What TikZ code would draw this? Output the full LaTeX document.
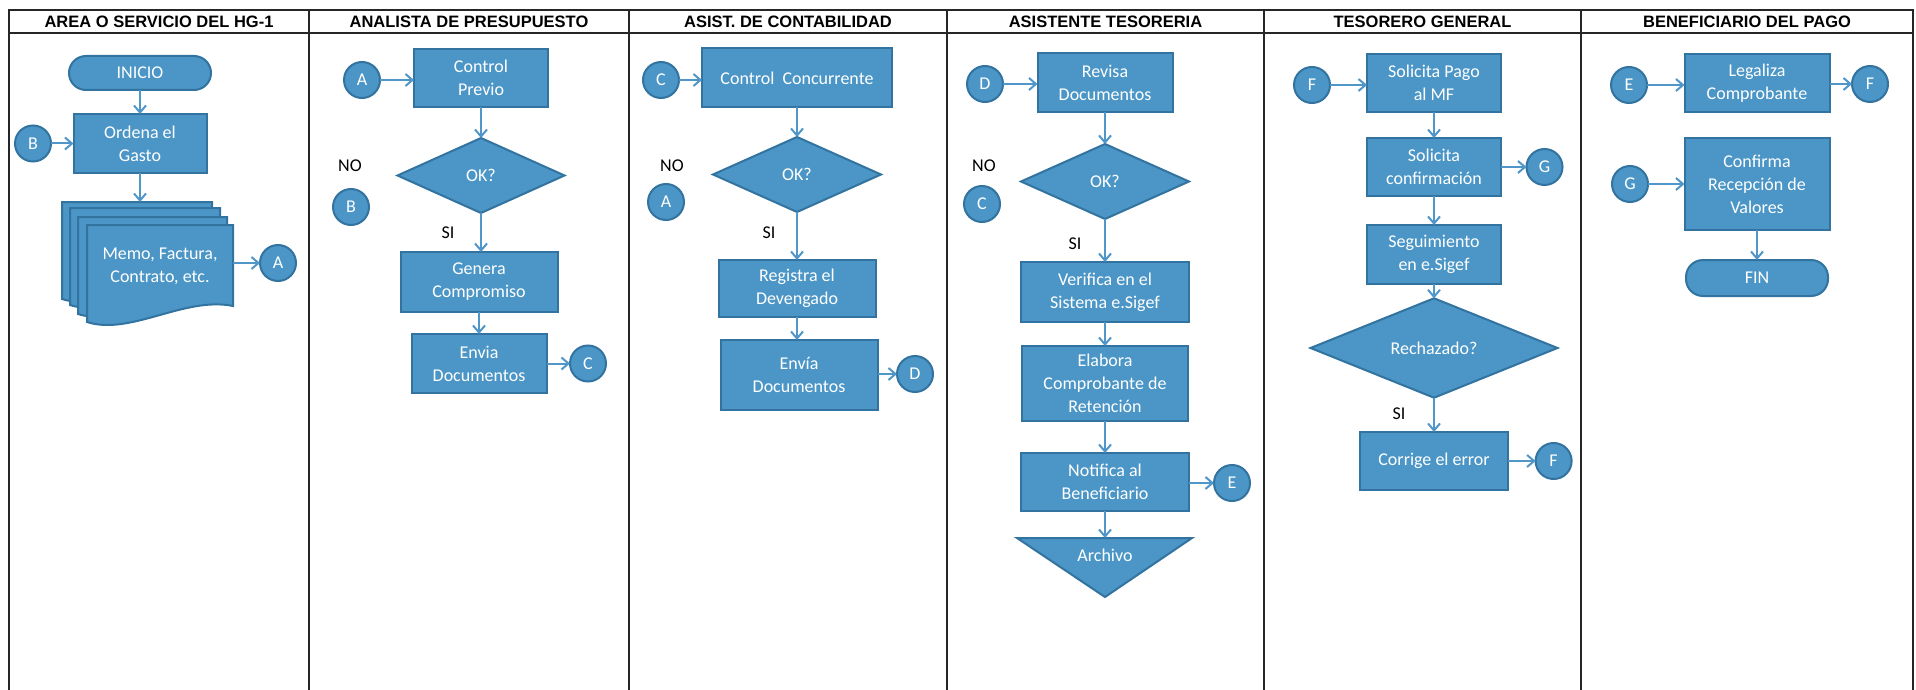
\documentclass[tikz,border=0pt]{standalone}
\usepackage{fontspec}
\setmainfont{Carlito}
\newfontfamily\hdrfont{Liberation Sans}
\usetikzlibrary{shapes.geometric,arrows.meta}
\definecolor{bfill}{RGB}{75,150,198}
\definecolor{bdraw}{RGB}{50,115,160}
\definecolor{arr}{RGB}{80,150,200}
\newcommand\docpage[3]{%
  \filldraw[fill=bfill, draw=bdraw, line width=2pt] (#1,#2) -- (#3,#2) -- (#3,#2+81)
    .. controls (#3-48,#2+71) and (#1+43,#2+111) .. (#1,#2+97) -- cycle;}
\begin{document}
\begin{tikzpicture}[x=1pt,y=-1pt,
  every node/.style={inner sep=0pt, outer sep=0pt},
  txt/.style={font=\fontsize{18}{23}\selectfont},
  box/.style={txt, rectangle, fill=bfill, draw=bdraw, line width=2pt, text=white, align=center},
  circ/.style={txt, circle, fill=bfill, draw=bdraw, line width=2pt, text=white, minimum size=36pt},
  dec/.style={txt, diamond, fill=bfill, draw=bdraw, line width=2pt, text=white},
  term/.style={box, rounded corners=17pt},
  lbl/.style={txt, text=black},
  hdr/.style={font=\hdrfont\bfseries\fontsize{16.5}{18}\selectfont},
  conn/.style={draw=arr, line width=2pt, -{Straight Barb[length=7pt,width=12pt]}},
  lanel/.style={line width=2.5pt, draw=black!85},
]
\useasboundingbox[fill=white] (0,0) rectangle (1916,690);

% lanes
\draw[lanel] (9,10) rectangle (1913,33);
\foreach \x in {9,309,629,947,1264,1581,1913} \draw[lanel] (\x,10) -- (\x,690);
\node[hdr] (h1) at (159,21.5) {AREA O SERVICIO DEL HG-1};
\node[hdr] (h2) at (469,21.5) {ANALISTA DE PRESUPUESTO};
\node[hdr] (h3) at (788,21.5) {ASIST. DE CONTABILIDAD};
\node[hdr] (h4) at (1105.5,21.5) {ASISTENTE TESORERIA};
\node[hdr] (h5) at (1422.5,21.5) {TESORERO GENERAL};
\node[hdr] (h6) at (1747,21.5) {BENEFICIARIO DEL PAGO};

% lane 1
\node[term, minimum width=142pt, minimum height=34pt] (inicio) at (140,73) {INICIO};
\node[box, minimum width=133pt, minimum height=59pt] (ordena) at (140,143.5) {Ordena el\\Gasto};
\node[circ] (b1) at (33,143.5) {B};
\docpage{62}{202}{212}
\docpage{70}{208}{220}
\docpage{78}{217}{227}
\docpage{87}{225}{233}
\node[txt, text=white, align=center] (doctext) at (160,266) {Memo, Factura,\\Contrato, etc.};
\coordinate (doctop) at (140,202);
\coordinate (docright) at (233,263);
\node[circ] (a1) at (278,263) {A};

% lane 2
\node[circ] (a2) at (362,80) {A};
\node[box, minimum width=134pt, minimum height=58pt] (cprev) at (481,78) {Control\\Previo};
\node[dec, minimum width=167pt, minimum height=75pt] (ok1) at (481,175.5) {OK?};
\node[lbl] (no1) at (350,166) {NO};
\node[circ] (b2) at (351,207) {B};
\node[lbl] (si1) at (448,233) {SI};
\node[box, minimum width=157pt, minimum height=60pt] (genera) at (479,282) {Genera\\Compromiso};
\node[box, minimum width=135pt, minimum height=59pt] (envia1) at (479,363.5) {Envia\\Documentos};
\node[circ] (c1) at (588,363.5) {C};

% lane 3
\node[circ] (c2) at (661,80) {C};
\node[box, minimum width=190pt, minimum height=59pt] (ccon) at (797,78) {Control\ \ Concurrente};
\node[dec, minimum width=168pt, minimum height=75pt] (ok2) at (797,174.5) {OK?};
\node[lbl] (no2) at (672,166) {NO};
\node[circ] (a3) at (666,202) {A};
\node[lbl] (si2) at (769,233) {SI};
\node[box, minimum width=157pt, minimum height=57pt] (registra) at (797,288.5) {Registra el\\Devengado};
\node[box, minimum width=157pt, minimum height=70pt] (envia2) at (799,375) {Envía\\Documentos};
\node[circ] (d1) at (915,374) {D};

% lane 4
\node[circ] (d2) at (985,84) {D};
\node[box, minimum width=135pt, minimum height=59pt] (revisa) at (1105,82.5) {Revisa\\Documentos};
\node[dec, minimum width=168pt, minimum height=75pt] (ok3) at (1105,181.5) {OK?};
\node[lbl] (no3) at (984,166) {NO};
\node[circ] (c3) at (982,204) {C};
\node[lbl] (si3) at (1075,244) {SI};
\node[box, minimum width=168pt, minimum height=60pt] (verifica) at (1105,292) {Verifica en el\\Sistema e.Sigef};
\node[box, minimum width=166pt, minimum height=75pt] (elabora) at (1105,383.5) {Elabora\\Comprobante de\\Retención};
\node[box, minimum width=168pt, minimum height=58pt] (notifica) at (1105,482) {Notifica al\\Beneficiario};
\node[circ] (e1) at (1232,483) {E};
\filldraw[fill=bfill, draw=bdraw, line width=2pt] (1017,538) -- (1192,538) -- (1105,597) -- cycle;
\coordinate (archtop) at (1105,538);
\node[txt, text=white] (archivo) at (1105,555) {Archivo};

% lane 5
\node[circ] (f1) at (1312,85) {F};
\node[box, minimum width=134pt, minimum height=58pt] (solpago) at (1434,83) {Solicita Pago\\al MF};
\node[box, minimum width=134pt, minimum height=58pt] (solconf) at (1434,167) {Solicita\\confirmación};
\node[circ] (g1) at (1544.5,167) {G};
\node[box, minimum width=134pt, minimum height=59pt] (seguim) at (1434,254.5) {Seguimiento\\en e.Sigef};
\node[dec, minimum width=247pt, minimum height=70pt] (rech) at (1434,348) {Rechazado?};
\node[lbl] (si4) at (1399,414) {SI};
\node[box, minimum width=148pt, minimum height=58pt] (corrige) at (1434,461) {Corrige el error};
\node[circ] (f2) at (1553.6,461) {F};

% lane 6
\node[circ] (e2) at (1629,85) {E};
\node[box, minimum width=145pt, minimum height=58pt] (legaliza) at (1757,83) {Legaliza\\Comprobante};
\node[circ] (f3) at (1870,84) {F};
\node[circ] (g2) at (1630,184) {G};
\node[box, minimum width=145pt, minimum height=92pt] (confirma) at (1757,184) {Confirma\\Recepción de\\Valores};
\node[term, minimum width=142pt, minimum height=36pt] (fin) at (1757,278) {FIN};

% connectors
\draw[conn] (inicio.south) -- (ordena.north);
\draw[conn] (b1.east) -- (b1.east -| ordena.west);
\draw[conn] (ordena.south) -- (doctop);
\draw[conn] (docright) -- (a1.west);

\draw[conn] (a2.east) -- (a2.east -| cprev.west);
\draw[conn] (cprev.south) -- (ok1.north);
\draw[conn] (ok1.south) -- (ok1.south |- genera.north);
\draw[conn] (genera.south) -- (envia1.north);
\draw[conn] (envia1.east |- c1) -- (c1.west);

\draw[conn] (c2.east) -- (c2.east -| ccon.west);
\draw[conn] (ccon.south) -- (ok2.north);
\draw[conn] (ok2.south) -- (registra.north);
\draw[conn] (registra.south) -- (registra.south |- envia2.north);
\draw[conn] (envia2.east |- d1) -- (d1.west);

\draw[conn] (d2.east) -- (d2.east -| revisa.west);
\draw[conn] (revisa.south) -- (ok3.north);
\draw[conn] (ok3.south) -- (verifica.north);
\draw[conn] (verifica.south) -- (elabora.north);
\draw[conn] (elabora.south) -- (notifica.north);
\draw[conn] (notifica.east |- e1) -- (e1.west);
\draw[conn] (notifica.south) -- (archtop);

\draw[conn] (f1.east) -- (f1.east -| solpago.west);
\draw[conn] (solpago.south) -- (solconf.north);
\draw[conn] (solconf.east) -- (g1.west);
\draw[conn] (solconf.south) -- (seguim.north);
\draw[conn] (seguim.south) -- (rech.north);
\draw[conn] (rech.south) -- (corrige.north);
\draw[conn] (corrige.east) -- (f2.west);

\draw[conn] (e2.east) -- (e2.east -| legaliza.west);
\draw[conn] (legaliza.east |- f3) -- (f3.west);
\draw[conn] (g2.east) -- (g2.east -| confirma.west);
\draw[conn] (confirma.south) -- (fin.north);
\end{tikzpicture}
\end{document}
